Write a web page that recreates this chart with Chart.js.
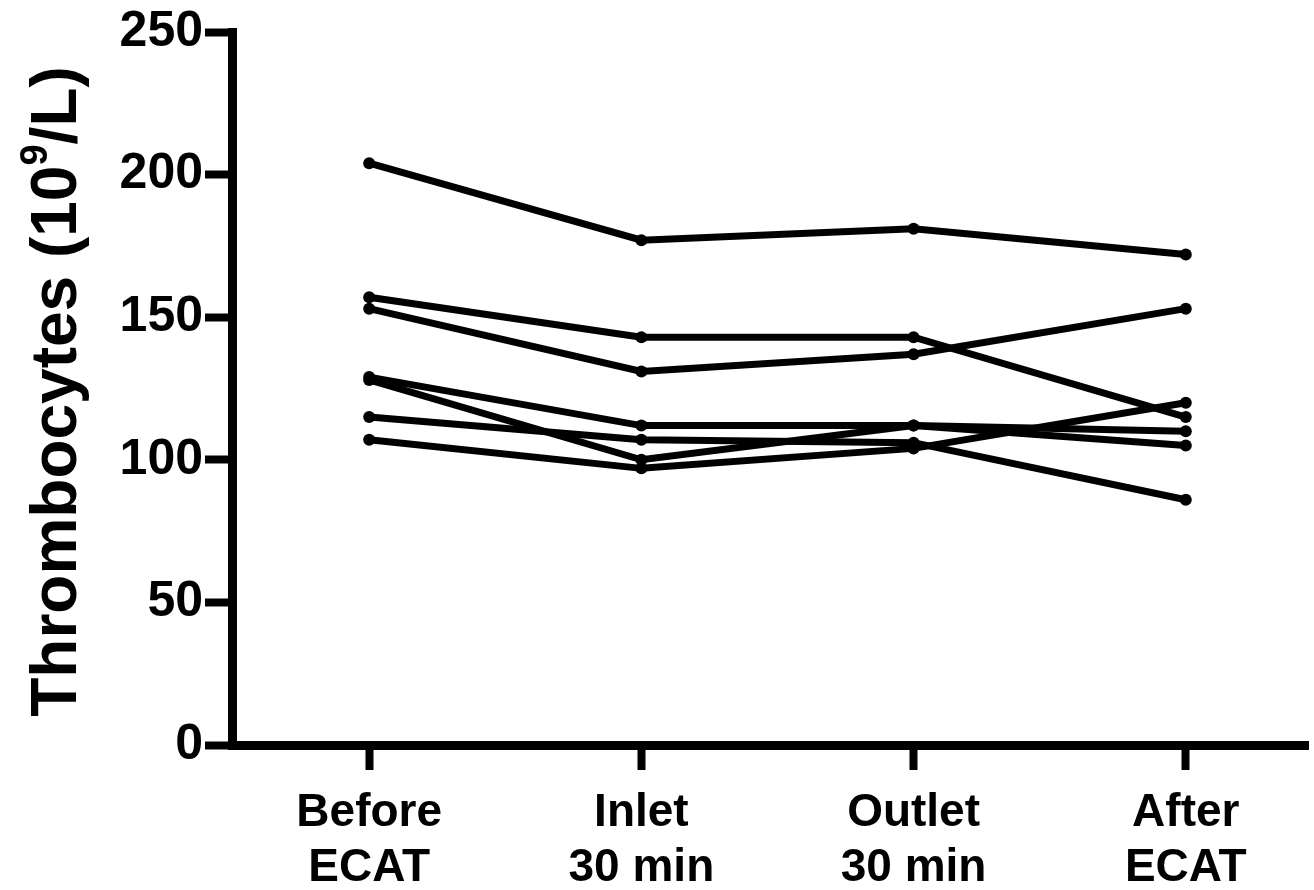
<!DOCTYPE html>
<html>
<head>
<meta charset="utf-8">
<title>Thrombocytes</title>
<script src="https://cdn.jsdelivr.net/npm/chart.js@4/dist/chart.umd.min.js"></script>
<style>
    html, body { margin: 0; padding: 0; background: #fff; }
    #wrap { width: 1314px; height: 890px; position: relative; }
</style>
</head>
<body>
<div id="wrap"><canvas id="chart"></canvas></div>
<script>
// ---- data ---------------------------------------------------------------
const categories = [['Before', 'ECAT'], ['Inlet', '30 min'], ['Outlet', '30 min'], ['After', 'ECAT']];
const yTicks = [0, 50, 100, 150, 200, 250];

const patient1 = [204, 177, 181, 172];
const patient2 = [157, 143, 143, 115];
const patient3 = [153, 131, 137, 153];
const patient4 = [129, 112, 112, 110];
const patient5 = [128, 100, 112, 105];
const patient6 = [115, 107, 106, 86];
const patient7 = [107, 97, 104, 120];

const seriesList = [patient1, patient2, patient3, patient4, patient5, patient6, patient7];

const FONT = "'Liberation Sans', Arial, Helvetica, sans-serif";

// y title with a raised 9 (10^9/L)
const yTitlePlugin = {
    id: 'yTitle',
    afterDraw(chart) {
        const ctx = chart.ctx;
        const area = chart.chartArea;
        const big = 'bold 64px ' + FONT;
        const small = 'bold 38px ' + FONT;
        const parts = [
            { text: 'Thrombocytes (10', font: big, dy: 0 },
            { text: '9', font: small, dy: -29 },
            { text: '/L)', font: big, dy: 0 }
        ];
        ctx.save();
        let total = 0;
        parts.forEach(p => { ctx.font = p.font; p.w = ctx.measureText(p.text).width; total += p.w; });
        ctx.translate(76, (area.top + area.bottom) / 2 + 3);
        ctx.rotate(-Math.PI / 2);
        ctx.fillStyle = '#000';
        ctx.textBaseline = 'alphabetic';
        ctx.textAlign = 'left';
        let x = -total / 2;
        parts.forEach(p => {
            ctx.font = p.font;
            ctx.fillText(p.text, x, p.dy);
            x += p.w;
        });
        ctx.restore();
    }
};

const datasets = seriesList.map(vals => ({
    data: vals.map((v, i) => ({ x: i, y: v })),
    borderColor: '#000',
    backgroundColor: '#000',
    borderWidth: 7,
    pointRadius: 6,
    pointBorderWidth: 0,
    pointBackgroundColor: '#000',
    tension: 0,
    clip: false
}));

new Chart(document.getElementById('chart'), {
    type: 'line',
    data: { datasets },
    options: {
        responsive: true,
        maintainAspectRatio: false,
        animation: false,
        layout: { padding: { top: 32, right: 0, bottom: 0, left: 0 } },
        plugins: {
            legend: { display: false },
            tooltip: { enabled: false }
        },
        scales: {
            x: {
                type: 'linear',
                min: -0.504,
                max: 3.449,
                afterBuildTicks: scale => { scale.ticks = categories.map((c, i) => ({ value: i })); },
                afterFit: scale => { scale.height = 145; },
                border: { display: true, color: '#000', width: 9 },
                grid: {
                    display: true,
                    drawOnChartArea: false,
                    drawTicks: true,
                    tickLength: 25,
                    tickWidth: 8,
                    tickColor: '#000'
                },
                ticks: {
                    color: '#000',
                    padding: 16,
                    maxRotation: 0,
                    autoSkip: false,
                    font: { family: FONT, size: 46, weight: 'bold', lineHeight: 1.2 },
                    callback: v => categories[v]
                }
            },
            y: {
                min: 0,
                max: 250,
                afterBuildTicks: scale => { scale.ticks = yTicks.map(v => ({ value: v })); },
                afterFit: scale => { scale.width = 232; },
                border: { display: true, color: '#000', width: 9 },
                grid: {
                    display: true,
                    drawOnChartArea: false,
                    drawTicks: true,
                    tickLength: 27,
                    tickWidth: 8,
                    tickColor: '#000'
                },
                ticks: {
                    color: '#000',
                    padding: 2,
                    font: { family: FONT, size: 50, weight: 'bold' }
                }
            }
        }
    },
    plugins: [yTitlePlugin]
});
</script>
</body>
</html>
